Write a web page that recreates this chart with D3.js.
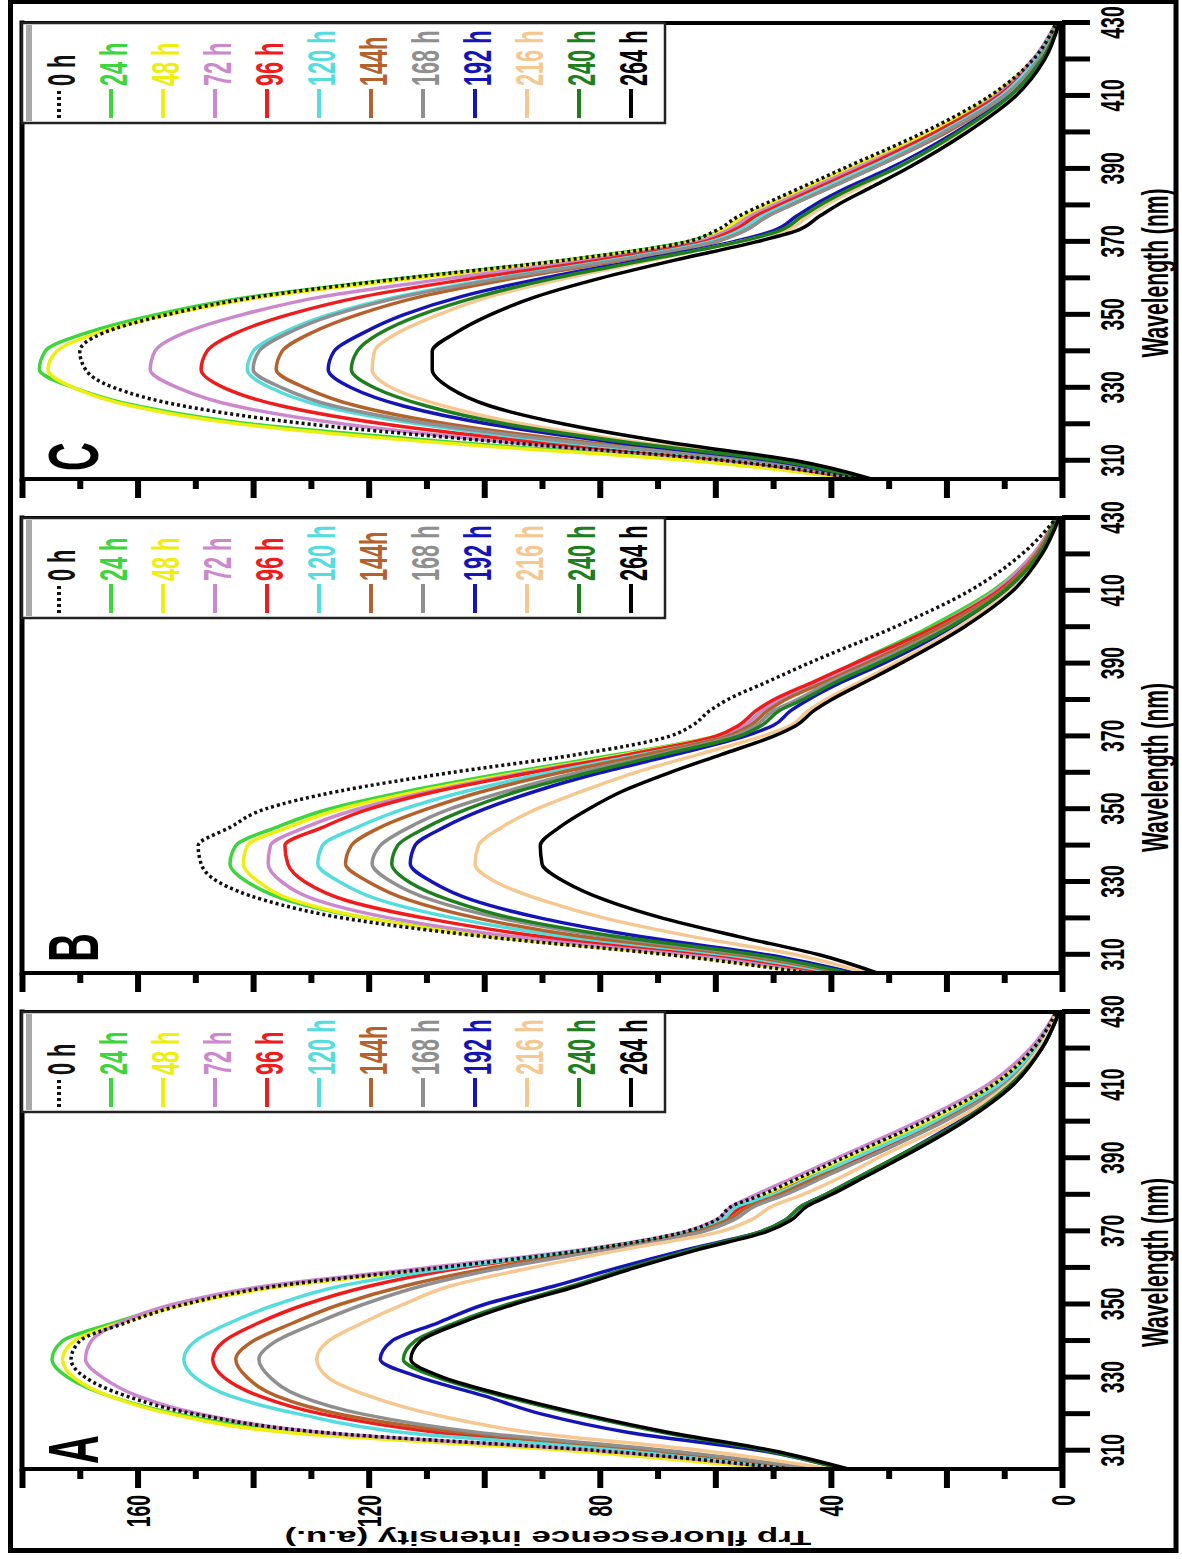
<!DOCTYPE html>
<html><head><meta charset="utf-8">
<script src="https://cdn.jsdelivr.net/npm/d3@7"></script>
<style>
html,body{margin:0;padding:0;background:#fff;}
svg{display:block;}
text{font-family:"Liberation Sans",Arial,Helvetica,sans-serif;font-weight:bold;}
</style>
</head><body>
<script>
// ---------- data ----------
const wavelengths = [305,310,315,320,325,330,335,340,345,350,355,360,365,370,373,377,380,385,390,400,410,420,430];
const seriesLabels = ["0 h","24 h","48 h","72 h","96 h","120 h","144h","168 h","192 h","216 h","240 h","264 h"];
const seriesColors = ["#111111","#3cd63c","#eeee11","#cc88cc","#ee1c1c","#55dddd","#b4622d","#8f8f8f","#1515b5","#f4c890","#1f7f1f","#000000"];
const xTicks = [310,320,330,340,350,360,370,380,390,400,410,420,430];
const xTickLabels = [310,330,350,370,390,410,430];
const yTicks = [0,10,20,30,40,50,60,70,80,90,100,110,120,130,140,150,160,170,180];
const yTickLabels = [0,40,80,120,160];
const panelLetters = ["A","B","C"];

const panelA = [
 [47,80,128,150,162,169,171.5,170,162,152,136,108,82,65,60,57,52,45,38,24,12,5,1],
 [48,82,131,153,165,172,174.8,173,164,153,136,107,81,64,59,56,51,44,37,23,12,5,1],
 [50,85,134,154,165,171,173,171,163,152,135,106,80,64,59,56,51,44,37,23,12,5,1],
 [47,80,128,149,160,166,169,168,163,154,138,110,83,65,60,57,53,46,39,25,13,5.5,1],
 [44,72,108,128,139,145,147,145,139,131,120,104,82,64,59,55,50,43,35,21,10.5,4.5,1],
 [45,74,114,132,144,150,152,150,144,136,125,106,82,64,59,56,50,43,36,22,11,4.5,1],
 [43,70,104,125,136,141,143,140,133,125,114,99,80,63,58,54,49,42,34,21,10,4,1],
 [42,68,101,121,132,137,139,136,129,121,111,97,79,62,57,53,48,41,34,20.5,10,4,1],
 [38,52,75,90,100,111,118,116,108,100,88,77,65,52,48,45,41,35,29,18,9,3.5,0.5],
 [40,62,92,109,120,127,129,127,121,114,106,92,76,59,54,50,45,38,32,19,9.5,4,1],
 [38,51,69,84,97,108,114,112,105,96,85,75,64,52,48,45,41,35,29,17.5,9,3.5,0.5],
 [37,50,68,83,96,107,112.7,111,104,95,84,74,63,51,47,44,40,34,28,17,8.5,3.5,0.5]
];
const panelB = [
 [44,68,100,124,138,146,149,149.5,144,138,125,106,84,68,64,61,58,51,44,29,16,7,1],
 [42,66,98,120,134,141,144,143,136,127,113,96,77,60,55,52,49,42,36,23,12,5,1],
 [42,67,99,120,133,139,141.7,141,134,125,111,94,76,60,55,52,49,42,35,22,11.5,5,1],
 [41,64,95,116,129,135,137.4,137,131,122,109,93,75,59,55,52,49,42,35,22,11.5,5,1],
 [40,60,90,110,124,131,134,134.5,128,120,108,92,75,60,56,53,50,43,36,22,11,4.5,1],
 [39,58,86,105,118,125,128.8,128,122,114,103,89,73,58,54,51,48,41,34,21,10.5,4.5,1],
 [38,56,83,101,113,120,124,123,118,110,100,87,72,58,54,51,48,41,34,21,10.5,4.5,1],
 [37,54,79,97,109,116,119.4,118,113,106,96,84,70,57,53,50,46,40,33,20,10,4,1],
 [36,51,73,90,102,109,112.8,112,107,100,91,80,67,55,50,47,44,38,31,19,9.5,4,0.5],
 [34,46,64,79,90,98,101.6,101,97,91,83,74,63,52,47,44,41,35,29,18,9,3.5,0.5],
 [37,53,77,95,106,113,116,115,110,103,94,82,69,56,52,49,45,39,32,19.5,10,4,1],
 [32,42,56,69,79,86,90,90.3,87,82,76,68,59,50,46,43,40,34,28,17,8.5,3.5,0.5]
];
const panelC = [
 [35,58,96,130,152,164,169,170,166,155,139,114,86,65,60,56,52,45,38,24,12.5,5,1],
 [36,62,105,140,160,171,177,176,169,157,140,114,86,65,59,55,51,44,37,23,12,5,1],
 [36,64,108,142,161,171,175.5,174,167,155,138,112,85,64,59,55,51,44,37,23,12,5,1],
 [35,58,95,124,143,153,157.8,157,152,142,128,106,82,63,58,54,50,43,36,22,11.5,5,1],
 [35,56,90,117,135,145,149,148,143,134,121,102,80,62,57,53,49,42,35,22,11,4.5,1],
 [35,54,86,111,128,137,141,140,135,127,115,98,78,61,56,52,48,41,34,21,10.5,4.5,1],
 [35,52,82,106,122,131,136,135,130,122,111,95,76,60,55,51,47,40,33,20,10,4,1],
 [35,53,84,109,126,135,140,139,134,126,114,97,77,60,55,51,47,40,33,20.5,10,4,1],
 [34,50,77,99,114,123,127,126,121,114,104,90,73,57,50,46,43,37,30,18.5,9,3.5,0.5],
 [34,48,73,93,107,116,119.4,119,115,108,99,86,71,56,48,44,41,35,29,17.5,8.5,3.5,0.5],
 [34,49,75,96,110,119,123,122,118,111,101,88,72,56,49,45,42,36,29,18,9,3.5,0.5],
 [33,46,68,86,99,106,109,109,105,99,91,80,67,53,46,42,39,33,27,16.5,8,3,0.5]
];

// ---------- layout ----------
const W = 1182, H = 1559;
const SQ = 0.57; // horizontal squeeze of the original lettering
const svg = d3.select("body").append("svg").attr("width", W).attr("height", H);
svg.append("rect").attr("width", W).attr("height", H).attr("fill", "#fff");

// the figure is drawn in its own landscape frame and turned a quarter turn
const root = svg.append("g").attr("transform", `translate(0,${H}) rotate(-90)`);

const y = d3.scaleLinear().domain([0, 180]).range([1062, 22]);

const panels = [
  {data: panelA, u0: 90,   u1: 547,  showY: true,  letterDx: 5},
  {data: panelB, u0: 586,  u1: 1041, showY: false, letterDx: 11},
  {data: panelC, u0: 1080, u1: 1536, showY: false, letterDx: 8}
];

const drawOrder = [1,2,3,4,5,6,7,8,9,10,11,0];

panels.forEach((p, pi) => {
  const x = d3.scaleLinear().domain([305, 430]).range([p.u0, p.u1]);
  const g = root.append("g");

  const line = d3.line()
    .x((d, i) => x(wavelengths[i]))
    .y(d => y(d))
    .curve(d3.curveMonotoneX);

  drawOrder.forEach(si => {
    g.append("path")
      .attr("d", line(p.data[si]))
      .attr("fill", "none")
      .attr("stroke", seriesColors[si])
      .attr("stroke-width", 3.5)
      .attr("stroke-linejoin", "round")
      .attr("stroke-dasharray", si === 0 ? "3,3" : null);
  });

  // frame lines
  g.append("line").attr("x1", p.u0).attr("x2", p.u1).attr("y1", 22).attr("y2", 22)
    .attr("stroke", "#000").attr("stroke-width", 5).attr("stroke-linecap", "square");
  g.append("line").attr("x1", p.u1).attr("x2", p.u1).attr("y1", 22).attr("y2", 1062)
    .attr("stroke", "#000").attr("stroke-width", 4);

  // x axis
  const gx = g.append("g").attr("transform", "translate(0,1062)")
    .call(d3.axisBottom(x).tickValues(xTicks).tickSize(28)
      .tickFormat(d => xTickLabels.includes(d) ? d : ""));
  gx.select(".domain").remove();
  gx.selectAll(".tick line").attr("stroke", "#000").attr("stroke-width", 5);
  gx.selectAll(".tick text")
    .attr("y", 0).attr("dy", null)
    .attr("transform", `translate(0,62) scale(${SQ},1)`)
    .attr("font-size", 34).attr("fill", "#000").attr("text-anchor", "middle");
  g.append("line").attr("x1", p.u0).attr("x2", p.u1).attr("y1", 1062).attr("y2", 1062)
    .attr("stroke", "#000").attr("stroke-width", 7);

  // y axis
  const gy = g.append("g").attr("transform", `translate(${p.u0},0)`)
    .call(d3.axisLeft(y).tickValues(yTicks).tickSize(19)
      .tickFormat(d => p.showY && yTickLabels.includes(d) ? d : ""));
  gy.select(".domain").remove();
  gy.selectAll(".tick line").attr("x2", d => d % 20 === 0 ? -19 : -10)
    .attr("stroke", "#000").attr("stroke-width", 6);
  gy.selectAll(".tick text")
    .attr("x", 0).attr("dy", null)
    .attr("transform", `translate(-26,12) scale(${SQ},1)`)
    .attr("font-size", 34).attr("fill", "#000").attr("text-anchor", "end");
  g.append("line").attr("x1", p.u0).attr("x2", p.u0).attr("y1", 22).attr("y2", 1062)
    .attr("stroke", "#000").attr("stroke-width", 4);

  // panel letter
  g.append("text")
    .attr("transform", `translate(${p.u0 + p.letterDx},98) scale(${SQ},1)`)
    .attr("font-size", 70).attr("fill", "#000").text(panelLetters[pi]);

  // x title
  g.append("text")
    .attr("transform", `translate(${(p.u0 + p.u1) / 2 - 22},1168) scale(${SQ},1)`)
    .attr("text-anchor", "middle").attr("font-size", 37).attr("fill", "#000")
    .text("Wavelength (nm)");

  // legend
  const L = p.u1 - 100;
  const lg = g.append("g");
  lg.append("rect").attr("x", L).attr("y", 22).attr("width", p.u1 - L).attr("height", 643)
    .attr("fill", "#fff").attr("stroke", "#222").attr("stroke-width", 2.5);
  lg.append("line").attr("x1", L + 2).attr("x2", p.u1 - 2).attr("y1", 29).attr("y2", 29)
    .attr("stroke", "#a8a8a8").attr("stroke-width", 6);
  seriesLabels.forEach((lab, i) => {
    const base = 75 + 52 * i;
    lg.append("line").attr("x1", L + 5).attr("x2", L + 34)
      .attr("y1", base - 16).attr("y2", base - 16)
      .attr("stroke", seriesColors[i]).attr("stroke-width", 4)
      .attr("stroke-dasharray", i === 0 ? "3,3" : null);
    lg.append("text")
      .attr("transform", `translate(${L + 37},${base}) scale(${SQ},1)`)
      .attr("font-size", 38).attr("fill", seriesColors[i]).text(lab);
  });
});

// y title
root.append("text")
  .attr("transform", `translate(28,548) scale(${SQ},1) rotate(-90)`)
  .attr("text-anchor", "middle").attr("font-size", 35).attr("fill", "#000")
  .text("Trp fluorescence intensity (a.u.)");

// outer border
svg.append("rect").attr("x", 10.5).attr("y", 1.5).attr("width", 1165.5).attr("height", 1549)
  .attr("fill", "none").attr("stroke", "#000").attr("stroke-width", 5);
</script>
</body></html>
